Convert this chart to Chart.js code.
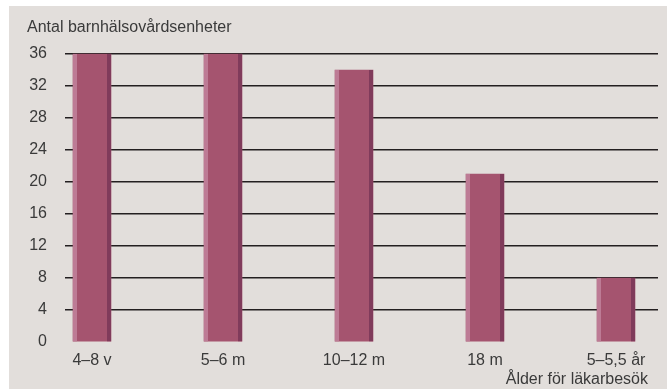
<!DOCTYPE html>
<html>
<head>
<meta charset="utf-8">
<script src="https://cdn.jsdelivr.net/npm/chart.js@4"></script>
<style>
  html, body { margin: 0; padding: 0; background: #fff; }
  #wrap { width: 670px; height: 389px; }
</style>
</head>
<body>
<div id="wrap"><canvas id="grafica" width="670" height="389"></canvas></div>
<script>
const kategorier = ["4–8 v", "5–6 m", "10–12 m", "18 m", "5–5,5 år"];
const enheter = [36, 36, 34, 21, 8];
const yTicks = [0, 4, 8, 12, 16, 20, 24, 28, 32, 36];
const yTitel = "Antal barnhälsovårdsenheter";
const xTitel = "Ålder för läkarbesök";

const FONT = "'Liberation Sans', Arial, sans-serif";
const TEXT = "#3a3a3a";
const PANEL = "#e2dedb";
const LINJE = "#231f20";

// bakgrundspanel + axeltitlar
const panelPlugin = {
  id: "panel",
  beforeDraw(chart) {
    const c = chart.ctx;
    c.save();
    c.fillStyle = "#fff";
    c.fillRect(0, 0, chart.width, chart.height);
    c.fillStyle = PANEL;
    c.fillRect(9, 6, 658, chart.height - 6);
    c.restore();
  },
  afterDraw(chart) {
    const c = chart.ctx;
    c.save();
    c.fillStyle = TEXT;
    c.font = "16px " + FONT;
    c.textBaseline = "alphabetic";
    c.textAlign = "left";
    c.fillText(yTitel, 27, 32);
    c.textAlign = "right";
    c.fillText(xTitel, 648, 384);
    c.restore();
  }
};

// ljus kant till vänster, mörk kant till höger på varje stapel
const kantPlugin = {
  id: "kanter",
  afterDatasetsDraw(chart) {
    const c = chart.ctx;
    const meta = chart.getDatasetMeta(0);
    c.save();
    meta.data.forEach(bar => {
      const p = bar.getProps(["x", "y", "base", "width"], true);
      const left = p.x - p.width / 2;
      const h = p.base - p.y;
      c.fillStyle = "#bd7b95";
      c.fillRect(left, p.y, 4, h);
      c.fillStyle = "#803b5b";
      c.fillRect(left + p.width - 4, p.y, 4, h);
    });
    c.restore();
  }
};

const gridFarg = ctx => (ctx.tick && ctx.tick.value === 0) ? "rgba(0,0,0,0)" : LINJE;

new Chart(document.getElementById("grafica"), {
  type: "bar",
  data: {
    labels: kategorier,
    datasets: [{
      data: enheter,
      backgroundColor: "#a5546f",
      borderWidth: 0,
      barThickness: 38,
      clip: false
    }]
  },
  options: {
    responsive: false,
    animation: false,
    layout: { padding: { top: 54, bottom: 0, left: 0, right: 0 } },
    plugins: { legend: { display: false }, tooltip: { enabled: false } },
    scales: {
      x: {
        offset: false,
        grid: { display: false, drawTicks: false },
        border: { display: false },
        ticks: { color: TEXT, font: { family: FONT, size: 16 }, padding: 9, maxRotation: 0, autoSkip: false },
        afterFit(s) { s.height = 47; }
      },
      y: {
        min: 0, max: 36,
        afterBuildTicks(s) { s.ticks = yTicks.map(v => ({ value: v })); },
        grid: { color: gridFarg, tickColor: gridFarg, lineWidth: 1.5, tickLength: 27 },
        border: { display: false },
        ticks: { color: TEXT, font: { family: FONT, size: 16 }, padding: 18 },
        afterFit(s) { s.width = 92; }
      },
      y2: {
        position: "right",
        min: 0, max: 36,
        afterBuildTicks(s) { s.ticks = yTicks.map(v => ({ value: v })); },
        grid: { drawOnChartArea: false, color: gridFarg, tickColor: gridFarg, lineWidth: 1.5, tickLength: 42 },
        border: { display: false },
        ticks: { display: false },
        afterFit(s) { s.width = 54; }
      }
    }
  },
  plugins: [panelPlugin, kantPlugin]
});
</script>
</body>
</html>
